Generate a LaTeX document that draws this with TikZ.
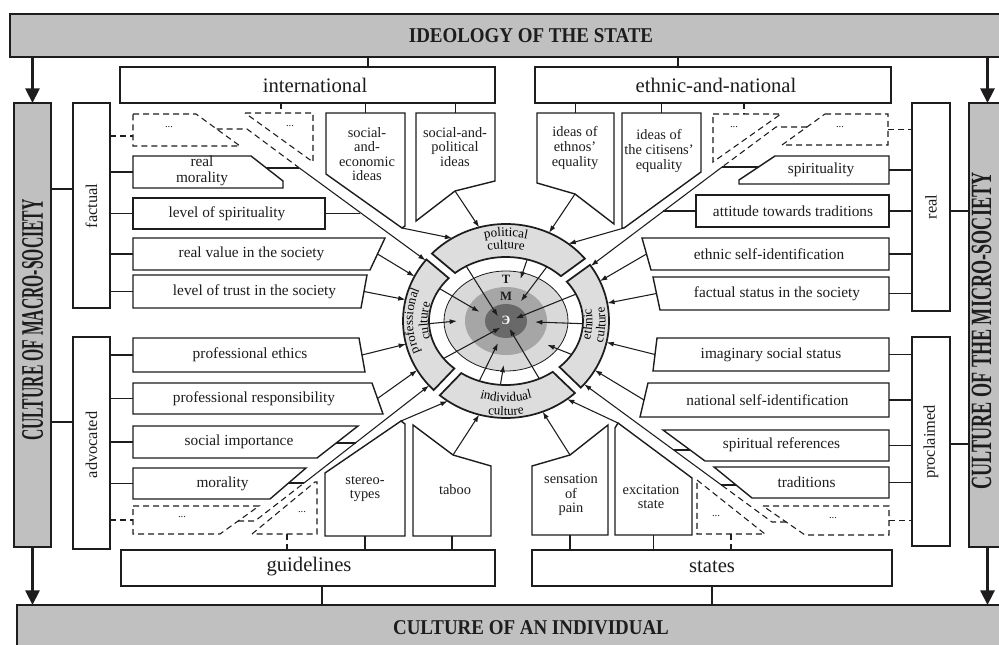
\documentclass[tikz,border=0pt]{standalone}
\usepackage{graphicx}
\usepackage{fontspec}
\setmainfont{Liberation Serif}
\usetikzlibrary{arrows.meta,shapes.geometric,fit,calc,decorations.text}
\definecolor{ink}{RGB}{30,28,28}
\definecolor{bargray}{RGB}{192,192,192}
\definecolor{bandgray}{RGB}{221,221,221}
\definecolor{tgray}{RGB}{217,217,217}
\definecolor{mgray}{RGB}{166,166,166}
\definecolor{egray}{RGB}{105,105,105}
\newcommand\bandfont{\fontsize{9.8}{11}\selectfont}

\begin{document}
\begin{tikzpicture}[x=0.75pt,y=-0.75pt,
  ln/.style={draw=ink, line width=0.8pt},
  bx/.style={draw=ink, line width=1.05pt, fill=white},
  thk/.style={draw=ink, line width=1.9pt, fill=white},
  dsh/.style={draw=ink, line width=0.8pt, dash pattern=on 4.5pt off 3pt},
  bar/.style={draw=ink, line width=1.9pt, fill=bargray},
  band/.style={draw=ink, line width=1.3pt, fill=bandgray},
  area/.style={inner sep=0pt, outer sep=0pt, fit={#1}},
  ghost/.style={ellipse, inner sep=0pt, outer sep=0pt},
  arr/.style={ln, -{Latex[length=5.5pt, width=3.8pt]}},
  bigarr/.style={draw=ink, line width=2.3pt, -{Triangle[length=11pt, width=10.5pt]}},
  bartxt/.style={font=\bfseries\fontsize{15.8}{17}\selectfont, text=ink},
  sidebartxt/.style={font=\bfseries\fontsize{23.5}{25}\selectfont, text=ink, rotate=90,
                     inner sep=0pt, text height=15.5pt, text depth=0pt},
  headtxt/.style={font=\fontsize{15.5}{17}\selectfont, text=ink},
  sidetxt/.style={font=\fontsize{12.3}{14}\selectfont, text=ink, rotate=90},
  itemtxt/.style={font=\fontsize{11.5}{12}\selectfont, text=ink, align=center, inner sep=0pt},
  pentxt/.style={font=\fontsize{10.8}{10.9}\selectfont, text=ink, align=center, inner sep=0pt},
  dotstxt/.style={font=\fontsize{8}{9}\selectfont, text=ink},
  ringtxt/.style={font=\bfseries\fontsize{9.5}{10}\selectfont}
]
\useasboundingbox (0,0) rectangle (999,645);
\clip (0,0) rectangle (999,645);
\fill[white] (0,0) rectangle (999,645);

% ---------- frame bars
\node[bar, area={(10,14)(1012,57)}] (ideo) {};
\node[bartxt] (ideoT) at (531,36) {\scalebox{0.9}[1]{IDEOLOGY OF THE STATE}};
\node[bar, area={(17,605)(1012,668)}] (indiv) {};
\node[bartxt] (indivT) at (531,628) {\scalebox{0.9}[1]{CULTURE OF AN INDIVIDUAL}};
\node[bar, area={(14,103)(51,547)}] (macro) {};
\node[sidebartxt] (macroT) at (32.5,320) {\scalebox{0.5}[1]{CULTURE OF MACRO-SOCIETY}};
\node[bar, area={(969,103)(1006,547)}] (micro) {};
\node[sidebartxt, font=\bfseries\fontsize{22}{24}\selectfont, text height=14.5pt]
  (microT) at (981.5,331) {\scalebox{0.62}[1]{CULTURE OF THE MICRO-SOCIETY}};

\draw[bigarr] (ideo.south -| macro.north) -- (macro.north);
\draw[bigarr] (ideo.south -| micro.north) -- (micro.north);
\draw[bigarr] (macro.south) -- (macro.south |- indiv.north);
\draw[bigarr] (micro.south) -- (micro.south |- indiv.north);

% ---------- group boxes
\node[thk, area={(120,67)(495,103)}] (intl) {};
\node[headtxt] (intlT) at (315,85) {international};
\node[thk, area={(535,67)(891,103)}] (ethn) {};
\node[headtxt] (ethnT) at (716,85) {ethnic-and-national};
\node[thk, area={(121,550)(495,586)}] (guid) {};
\node[headtxt] (guidT) at (309,567) {guidelines};
\node[thk, area={(532,550)(892,586)}] (stat) {};
\node[headtxt] (statT) at (712,567) {states};
\node[thk, area={(73,103)(110,308)}] (fact) {};
\node[sidetxt] (factT) at (91.5,206) {factual};
\node[thk, area={(73,337)(110,549)}] (advo) {};
\node[sidetxt] (advoT) at (91.5,445) {advocated};
\node[thk, area={(912,103)(950,311)}] (real) {};
\node[sidetxt] (realT) at (931,207) {real};
\node[thk, area={(912,337)(950,546)}] (proc) {};
\node[sidetxt] (procT) at (931,442) {proclaimed};

\coordinate (k1) at (0,189);  \coordinate (k2) at (0,422);
\coordinate (k3) at (0,211);  \coordinate (k4) at (0,444);
\coordinate (k5) at (368,0);  \coordinate (k6) at (678,0);
\coordinate (k7) at (322,0);  \coordinate (k8) at (712,0);
\draw[ln] (macro.east |- k1) -- (fact.west |- k1);
\draw[ln] (macro.east |- k2) -- (advo.west |- k2);
\draw[ln] (real.east |- k3) -- (micro.west |- k3);
\draw[ln] (proc.east |- k4) -- (micro.west |- k4);
\draw[ln] (ideo.south -| k5) -- (intl.north -| k5);
\draw[ln] (ideo.south -| k6) -- (ethn.north -| k6);
\draw[ln] (guid.south -| k7) -- (indiv.north -| k7);
\draw[ln] (stat.south -| k8) -- (indiv.north -| k8);

% ---------- factual values
\draw[dsh] (133,114) -- (196,114) -- (240,146) -- (133,146) -- cycle;
\node[area={(133,114)(240,146)}] (fdots) {};
\node[dotstxt] (fdotsT) at (169,127) {...};
\draw[bx] (133,156) -- (251,156) -- (283,181) -- (283,188) -- (133,188) -- cycle;
\node[area={(133,156)(283,188)}] (rmor) {};
\node[itemtxt] (rmorT) at (202,171) {real\\morality};
\node[bx, area={(133,198)(325,229)}] (lspi) {};
\node[itemtxt] (lspiT) at (227,213.5) {level of spirituality};
\draw[bx] (133,238) -- (385,238) -- (370,270) -- (133,270) -- cycle;
\node[area={(133,238)(385,270)}] (rval) {};
\node[itemtxt] (rvalT) at (251.5,254) {real value in the society};
\draw[bx] (133,275) -- (367,275) -- (361,308) -- (133,308) -- cycle;
\node[area={(133,275)(367,308)}] (trst) {};
\node[itemtxt] (trstT) at (254.5,291.5) {level of trust in the society};

\coordinate (k9) at (0,136);
\draw[dsh] (fact.east |- k9) -- (fdots.west |- k9);
\draw[ln] (fact.east |- rmor.west) -- (rmor.west);
\draw[ln] (fact.east |- lspi.west) -- (lspi.west);
\draw[ln] (fact.east |- rval.west) -- (rval.west);
\draw[ln] (fact.east |- trst.west) -- (trst.west);

% ---------- advocated values
\draw[bx] (133,338) -- (359,338) -- (365,372) -- (133,372) -- cycle;
\node[area={(133,338)(365,372)}] (ethi) {};
\node[itemtxt] (ethiT) at (250,355) {professional ethics};
\draw[bx] (133,383) -- (372,383) -- (383,414) -- (133,414) -- cycle;
\node[area={(133,383)(383,414)}] (resp) {};
\node[itemtxt] (respT) at (254,398.5) {professional responsibility};
\draw[bx] (133,426) -- (358,426) -- (317,458) -- (133,458) -- cycle;
\node[area={(133,426)(358,458)}] (simp) {};
\node[itemtxt] (simpT) at (239,442) {social importance};
\draw[bx] (133,468) -- (306,468) -- (270,499) -- (133,499) -- cycle;
\node[area={(133,468)(306,499)}] (morl) {};
\node[itemtxt] (morlT) at (222.5,483.5) {morality};
\draw[dsh] (133,506) -- (259,506) -- (220,534) -- (133,534) -- cycle;
\node[area={(133,506)(259,534)}] (adots) {};
\node[dotstxt] (adotsT) at (182,517) {...};

\draw[ln] (advo.east |- ethi.west) -- (ethi.west);
\draw[ln] (advo.east |- resp.west) -- (resp.west);
\draw[ln] (advo.east |- simp.west) -- (simp.west);
\draw[ln] (advo.east |- morl.west) -- (morl.west);
\draw[dsh] (advo.east |- adots.west) -- (adots.west);

% ---------- real values
\draw[dsh] (825,114) -- (888,114) -- (888,145) -- (782,145) -- cycle;
\node[area={(782,114)(888,145)}] (rdots) {};
\node[dotstxt] (rdotsT) at (840,127) {...};
\draw[bx] (775,156) -- (889,156) -- (889,184) -- (739,184) -- (739,180) -- cycle;
\node[area={(739,156)(889,184)}] (spir) {};
\node[itemtxt] (spirT) at (821,170) {spirituality};
\node[bx, area={(696,195)(889,227)}] (attd) {};
\node[itemtxt] (attdT) at (793,211) {attitude towards traditions};
\draw[bx] (642,238) -- (889,238) -- (889,270) -- (651,270) -- cycle;
\node[area={(642,238)(889,270)}] (eself) {};
\node[itemtxt] (eselfT) at (769,254) {ethnic self-identification};
\draw[bx] (653,277) -- (889,277) -- (889,310) -- (660,310) -- cycle;
\node[area={(653,277)(889,310)}] (fstat) {};
\node[itemtxt] (fstatT) at (777,293.5) {factual status in the society};

\draw[dsh] (rdots.east) -- (rdots.east -| real.west);
\draw[ln] (spir.east) -- (spir.east -| real.west);
\draw[ln] (attd.east) -- (attd.east -| real.west);
\draw[ln] (eself.east) -- (eself.east -| real.west);
\draw[ln] (fstat.east) -- (fstat.east -| real.west);

% ---------- proclaimed values
\draw[bx] (657,338) -- (889,338) -- (889,371) -- (653,371) -- cycle;
\node[area={(653,338)(889,371)}] (imag) {};
\node[itemtxt] (imagT) at (771,354.5) {imaginary social status};
\draw[bx] (648,383) -- (889,383) -- (889,417) -- (640,417) -- cycle;
\node[area={(640,383)(889,417)}] (natl) {};
\node[itemtxt] (natlT) at (767.5,400) {national self-identification};
\draw[bx] (663,430) -- (889,430) -- (889,461) -- (705,461) -- cycle;
\node[area={(663,430)(889,461)}] (spref) {};
\node[itemtxt] (sprefT) at (781.5,445) {spiritual references};
\draw[bx] (714,467) -- (889,467) -- (889,498) -- (752,498) -- cycle;
\node[area={(714,467)(889,498)}] (trad) {};
\node[itemtxt] (tradT) at (806.5,482) {traditions};
\draw[dsh] (763,506) -- (889,506) -- (889,535) -- (805,535) -- cycle;
\node[area={(763,506)(889,535)}] (pdots) {};
\node[dotstxt] (pdotsT) at (833,518) {...};

\draw[ln] (imag.east) -- (imag.east -| proc.west);
\draw[ln] (natl.east) -- (natl.east -| proc.west);
\draw[ln] (spref.east) -- (spref.east -| proc.west);
\draw[ln] (trad.east) -- (trad.east -| proc.west);
\draw[dsh] (pdots.east) -- (pdots.east -| proc.west);

% ---------- ideas (top) and guidelines / states (bottom)
\draw[dsh] (245,113) -- (313,113) -- (313,162) -- cycle;
\node[area={(245,113)(313,162)}] (idots) {};
\node[dotstxt] (idotsT) at (290,126) {...};
\draw[dsh] (713,114) -- (781,114) -- (713,162) -- cycle;
\node[area={(713,114)(781,162)}] (edots) {};
\node[dotstxt] (edotsT) at (734,127) {...};
\draw[bx] (326,113) -- (405,113) -- (405,226) -- (402,228) -- (326,174) -- cycle;
\node[area={(326,113)(405,228)}] (secon) {};
\node[pentxt] (seconT) at (367,154) {social-\\and-\\economic\\ideas};
\draw[bx] (416,113) -- (495,113) -- (495,181) -- (455,191) -- (416,221) -- cycle;
\node[area={(416,113)(495,221)}] (spol) {};
\node[pentxt] (spolT) at (455,147) {social-and-\\political\\ideas};
\draw[bx] (537,113) -- (614,113) -- (614,224) -- (575,194) -- (537,183) -- cycle;
\node[area={(537,113)(614,224)}] (ethq) {};
\node[pentxt] (ethqT) at (575,148) {ideas of\\ethnos'\\equality};
\draw[bx] (622,113) -- (701,113) -- (701,172) -- (624,228) -- (622,228) -- cycle;
\node[area={(622,113)(701,228)}] (citq) {};
\node[pentxt] (citqT) at (659,151) {ideas of\\the citisens'\\equality};

\coordinate (k10) at (281,0); \coordinate (k11) at (744,0);
\draw[dsh] (intl.south -| k10) -- (idots.north -| k10);
\draw[dsh] (ethn.south -| k11) -- (edots.north -| k11);
\draw[ln] (intl.south -| secon.north) -- (secon.north);
\draw[ln] (intl.south -| spol.north) -- (spol.north);
\draw[ln] (ethn.south -| ethq.north) -- (ethq.north);
\draw[ln] (ethn.south -| citq.north) -- (citq.north);

\draw[dsh] (252,534) -- (315,482) -- (317,482) -- (317,534) -- cycle;
\node[area={(252,482)(317,534)}] (gdots) {};
\node[dotstxt] (gdotsT) at (302,512) {...};
\draw[dsh] (697,480) -- (765,534) -- (697,534) -- cycle;
\node[area={(697,480)(765,534)}] (sdots) {};
\node[dotstxt] (sdotsT) at (716,516) {...};
\draw[bx] (325,536) -- (405,536) -- (405,424) -- (401,421) -- (325,473) -- cycle;
\node[area={(325,421)(405,536)}] (ster) {};
\node[pentxt] (sterT) at (365,489) {stereo-\\types};
\draw[bx] (413,536) -- (491,536) -- (491,466) -- (453,455) -- (413,425) -- cycle;
\node[area={(413,425)(491,536)}] (tabo) {};
\node[pentxt] (taboT) at (455,490) {taboo};
\draw[bx] (532,535) -- (608,535) -- (608,425) -- (570,455) -- (532,466) -- cycle;
\node[area={(532,425)(608,535)}] (sens) {};
\node[pentxt] (sensT) at (571,495) {sensation\\of\\pain};
\draw[bx] (615,535) -- (692,535) -- (692,478) -- (618,423) -- (615,428) -- cycle;
\node[area={(615,423)(692,535)}] (exci) {};
\node[pentxt] (exciT) at (651,497) {excitation\\state};

\coordinate (k12) at (287,0); \coordinate (k13) at (731,0);
\draw[dsh] (gdots.south -| k12) -- (guid.north -| k12);
\draw[dsh] (sdots.south -| k13) -- (stat.north -| k13);
\draw[ln] (ster.south) -- (ster.south |- guid.north);
\draw[ln] (tabo.south) -- (tabo.south |- guid.north);
\draw[ln] (sens.south) -- (sens.south |- stat.north);
\draw[ln] (exci.south) -- (exci.south |- stat.north);

% ---------- the ring of cultures
\begin{scope}[shift={(506,321)}, y=0.75pt]
  \draw[band] (40:103 and 97) arc[start angle=40, end angle=136, x radius=103, y radius=97]
     -- (131.4:77 and 64) arc[start angle=131.4, end angle=44.5, x radius=77, y radius=64] -- cycle;
  \draw[band] (-43.4:103 and 97) arc[start angle=-43.4, end angle=35.35, x radius=103, y radius=97]
     -- (37.9:77 and 64) arc[start angle=37.9, end angle=-46, x radius=77, y radius=64] -- cycle;
  \draw[band] (-130:103 and 97) arc[start angle=-130, end angle=-48, x radius=103, y radius=97]
     -- (-52.6:77 and 64) arc[start angle=-52.6, end angle=-125.5, x radius=77, y radius=64] -- cycle;
  \draw[band] (140.6:103 and 97) arc[start angle=140.6, end angle=225.4, x radius=103, y radius=97]
     -- (227.9:77 and 64) arc[start angle=227.9, end angle=138, x radius=77, y radius=64] -- cycle;

  \node[ellipse, draw=ink, line width=0.6pt, fill=tgray, inner sep=0pt,
        minimum width=93pt, minimum height=75pt] (tcirc) at (0,0) {};
  \node[ellipse, fill=mgray, inner sep=0pt, minimum width=61.5pt, minimum height=51pt] (mcirc) at (0,0) {};
  \node[ellipse, fill=egray, inner sep=0pt, minimum width=31.5pt, minimum height=25.5pt] (ecirc) at (0,0) {};
  \node[ghost, minimum width=154.5pt, minimum height=145.5pt] (ringout) at (0,0) {};
  \node[ghost, minimum width=115.5pt, minimum height=96pt] (ringin) at (0,0) {};
  \node[ghost, minimum width=73.5pt, minimum height=66pt] (tmid) at (0,0) {};
  \node[ghost, minimum width=43.5pt, minimum height=34.5pt] (mmid) at (0,0) {};
  \node[ghost, minimum width=15pt, minimum height=12pt] (elet) at (0,0) {};
  \node[ringtxt, text=ink] (tT) at (0,42) {T};
  \node[ringtxt, text=ink] (mT) at (0,25) {M};
  \node[ringtxt, text=white] (eT) at (0,1) {Э};

  \draw[arr] (ringin.126) -- (elet.150);
  \draw[arr] (ringin.71) -- (tmid.71);
  \draw[arr] (ringin.53.6) -- (mmid.53.6);
  \draw[arr] (ringin.21) -- (elet.15);
  \draw[arr] (ringin.-2.3) -- (mmid.-2.3);
  \draw[arr] (ringin.-27.9) -- (tmid.-30);
  \draw[arr] (ringin.154.5) -- (mmid.161);
  \draw[arr] (ringin.182) -- (tmid.180);
  \draw[arr] (ringin.211.5) -- (elet.230);
  \draw[arr] (ringin.246) -- (mmid.250);
  \draw[arr] (ringin.-60.8) -- (elet.-66);
  \draw[arr] (ringin.-95) -- (tmid.-93);

  % band names, set along the arcs
  \path[decorate, decoration={text along path, text align=center, text={|\bandfont|political}}]
    (130:92.5 and 84.5) arc[start angle=130, end angle=50, x radius=92.5, y radius=84.5];
  \path[decorate, decoration={text along path, text align=center, text={|\bandfont|culture}}]
    (125:83.5 and 72) arc[start angle=125, end angle=55, x radius=83.5, y radius=72];
  \path[decorate, decoration={text along path, text align=center, text={|\bandfont|professional}}]
    (218:93 and 84) arc[start angle=218, end angle=142, x radius=93, y radius=84];
  \path[decorate, decoration={text along path, text align=center, text={|\bandfont|culture}}]
    (212:78.5 and 66) arc[start angle=212, end angle=148, x radius=78.5, y radius=66];
  \path[decorate, decoration={text along path, text align=center, text={|\bandfont|ethnic}}]
    (-35:86.5 and 76.5) arc[start angle=-35, end angle=30, x radius=86.5, y radius=76.5];
  \path[decorate, decoration={text along path, text align=center, text={|\bandfont|culture}}]
    (-35:99.5 and 92) arc[start angle=-35, end angle=30, x radius=99.5, y radius=92];
  \path[decorate, decoration={text along path, text align=center, text={|\bandfont|individual}}]
    (-125:90 and 80.5) arc[start angle=-125, end angle=-55, x radius=90, y radius=80.5];
  \path[decorate, decoration={text along path, text align=center, text={|\bandfont|culture}}]
    (-122:100.6 and 94.5) arc[start angle=-122, end angle=-58, x radius=100.6, y radius=94.5];
\end{scope}

% ---------- channels from the dotted items to the ring
\coordinate (ulH) at (216.6,129); \coordinate (ulA) at (247,129); \coordinate (ulJ) at (299.4,168);
\coordinate (ulK) at (359.8,213.5); \coordinate (rmorS) at (266.4,168);
\draw[dsh] (ulH) -- (ulA) -- (ulJ);
\draw[arr] (ulJ) -- (ringout.143.7);
\draw[ln] (rmorS) -- (ulJ);
\draw[ln] (lspi.east) -- (ulK);

\coordinate (urH) at (807,127); \coordinate (urA) at (776,127); \coordinate (urJ) at (722.1,167);
\coordinate (urK) at (662.8,211); \coordinate (spirS) at (758.5,167);
\draw[dsh] (urH) -- (urA) -- (urJ);
\draw[arr] (urJ) -- (ringout.33.7);
\draw[ln] (spirS) -- (urJ);
\draw[ln] (attd.west) -- (urK);

\coordinate (llH) at (238.1,521); \coordinate (llA) at (255,521); \coordinate (llJ) at (304,483);
\coordinate (llK) at (355.6,443); \coordinate (morlS) at (288.6,483); \coordinate (simpS) at (336.2,443);
\draw[dsh] (llH) -- (llA) -- (llJ);
\draw[arr] (llJ) -- (ringout.220.2);
\draw[ln] (morlS) -- (llJ);
\draw[ln] (simpS) -- (llK);

\coordinate (lrH) at (786.2,522); \coordinate (lrA) at (772,522); \coordinate (lrJ) at (721.4,485);
\coordinate (lrK) at (673.5,450); \coordinate (tradS) at (736.1,485); \coordinate (sprefS) at (690.1,450);
\draw[dsh] (lrH) -- (lrA) -- (lrJ);
\draw[arr] (lrJ) -- (ringout.-39.2);
\draw[ln] (tradS) -- (lrJ);
\draw[ln] (sprefS) -- (lrK);

% ---------- arrows into the ring
\coordinate (seconP) at (402,228); \coordinate (spolP) at (455,191);
\coordinate (ethqP) at (575,194);  \coordinate (citqP) at (624,228);
\coordinate (sterP) at (401,421);  \coordinate (taboP) at (453,455);
\coordinate (sensP) at (570,455);  \coordinate (exciP) at (618,423);
\draw[arr] (seconP) -- (ringout.123.7);
\draw[arr] (spolP) -- (ringout.106.4);
\draw[arr] (ethqP) -- (ringout.64.7);
\draw[arr] (citqP) -- (ringout.51.5);
\draw[arr] (sterP) -- (ringout.-126);
\draw[arr] (taboP) -- (ringout.-106.6);
\draw[arr] (sensP) -- (ringout.-68.1);
\draw[arr] (exciP) -- (ringout.-52.3);

\draw[arr] ($(rval.east)+(-7.5,0)$) -- (ringout.154.7);
\draw[arr] ($(trst.east)+(-3,0)$) -- (ringout.168);
\draw[arr] ($(ethi.east)+(-3,0)$) -- (ringout.193.6);
\draw[arr] ($(resp.east)+(-5.5,0)$) -- (ringout.209.9);
\draw[arr] ($(eself.west)+(4.5,0)$) -- (ringout.23.6);
\draw[arr] ($(fstat.west)+(3.5,0)$) -- (ringout.10);
\draw[arr] ($(imag.west)+(2,0)$) -- (ringout.-12);
\draw[arr] ($(natl.west)+(4,0)$) -- (ringout.-29.5);
\end{tikzpicture}
\end{document}
